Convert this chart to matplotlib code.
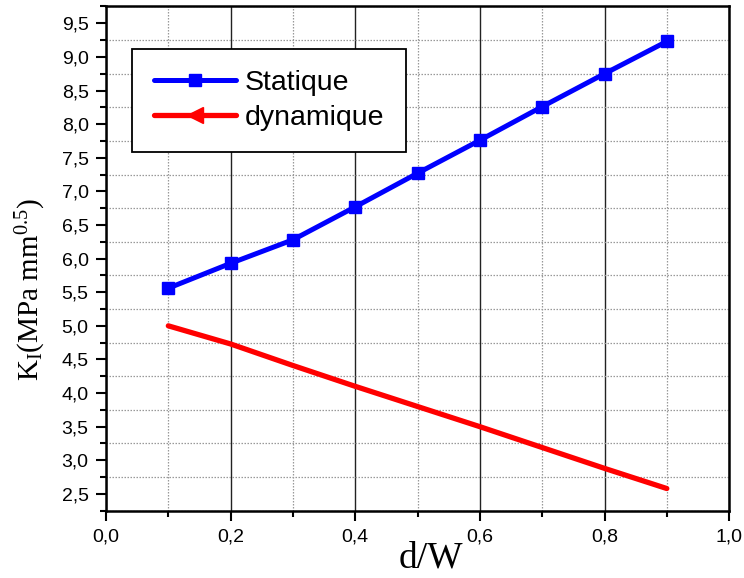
import matplotlib
matplotlib.use("Agg")
import matplotlib.pyplot as plt
from matplotlib.lines import Line2D
from matplotlib.ticker import MultipleLocator, FuncFormatter

# Stress intensity factor vs. crack ratio
d_over_w = [0.1, 0.2, 0.3, 0.4, 0.5, 0.6, 0.7, 0.8, 0.9]
k_statique = [5.56, 5.93, 6.28, 6.77, 7.27, 7.76, 8.26, 8.75, 9.23]
k_dynamique = [5.00, 4.73, 4.41, 4.10, 3.80, 3.50, 3.19, 2.88, 2.58]
series_labels = ["Statique", "dynamique"]

plt.rcParams["font.family"] = ["Liberation Sans", "DejaVu Sans"]
plt.rcParams["mathtext.fontset"] = "custom"
plt.rcParams["mathtext.rm"] = "Liberation Serif"
plt.rcParams["mathtext.it"] = "Liberation Serif:italic"

fig = plt.figure(figsize=(7.44, 5.78), dpi=100)
ax = fig.add_axes([0.1425, 0.1164, 0.8375, 0.8724])

ax.plot(d_over_w, k_statique, color="#0000ff", lw=3.6, marker="s",
        markersize=8, solid_joinstyle="round", solid_capstyle="round", zorder=3)
ax.plot(d_over_w, k_dynamique, color="#ff0000", lw=3.8,
        solid_joinstyle="round", solid_capstyle="round", zorder=3)

ax.set_xlim(0.0, 1.0)
ax.set_ylim(2.25, 9.75)
ax.xaxis.set_major_locator(MultipleLocator(0.2))
ax.xaxis.set_minor_locator(MultipleLocator(0.1))
ax.yaxis.set_major_locator(MultipleLocator(0.5))
ax.yaxis.set_minor_locator(MultipleLocator(0.25))
comma = FuncFormatter(lambda v, p: f"{v:.1f}".replace(".", ","))
ax.xaxis.set_major_formatter(comma)
ax.yaxis.set_major_formatter(comma)

# grid: solid at major x, dotted at minor x and minor y
ax.grid(which="major", axis="x", color="#222222", lw=1.0, ls="-")
ax.grid(which="minor", axis="x", color="#999999", lw=0.9, ls=(0, (1.2, 1.2)))
ax.grid(which="minor", axis="y", color="#999999", lw=0.9, ls=(0, (1.2, 1.2)))
ax.set_axisbelow(True)

for s in ax.spines.values():
    s.set_linewidth(1.8)
ax.tick_params(which="major", direction="out", length=7.5, width=1.5,
               labelsize=14, top=False, right=False, pad=5)
ax.tick_params(which="minor", direction="out", length=4.5, width=1.5,
               top=False, right=False)

fig.text(0.579, 0.019, "d/W", family="Liberation Serif", fontsize=27,
         ha="center", va="baseline")
fig.text(0.042, 0.5, r"K$_\mathrm{I}$(MPa mm$^{0.5}$)", family="Liberation Serif",
         fontsize=21, rotation=90, ha="center", va="center")

handles = [
    Line2D([], [], color="#0000ff", lw=3.6, marker="s", markersize=9,
           solid_capstyle="round"),
    Line2D([], [], color="#ff0000", lw=3.8, marker="<", markersize=12,
           solid_capstyle="round"),
]
leg = ax.legend(handles, series_labels, loc="upper left",
                bbox_to_anchor=(0.042, 0.916), fancybox=False, framealpha=1,
                edgecolor="black", handlelength=2.9, handletextpad=0.3,
                borderpad=0.75, labelspacing=0.3, borderaxespad=0,
                prop={"size": 20.5})
leg.get_frame().set_linewidth(1.3)

fig.savefig("out.png", dpi=100)
